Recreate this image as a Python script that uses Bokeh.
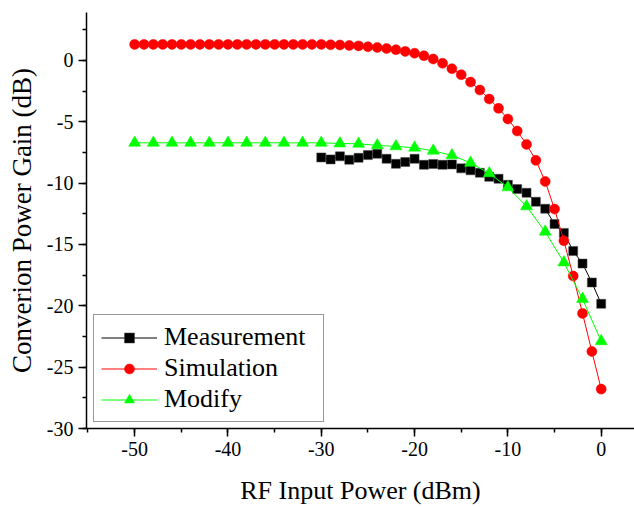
from bokeh.plotting import figure
from bokeh.models import Range1d, SingleIntervalTicker, Legend, LegendItem, NumeralTickFormatter
from bokeh.embed import file_html
from bokeh.resources import INLINE

# ---- data ----
sim_x = list(range(-50, 1))
sim_y = [1.30, 1.30, 1.30, 1.30, 1.30, 1.30, 1.30, 1.30, 1.30, 1.30,
         1.30, 1.30, 1.30, 1.30, 1.30, 1.30, 1.30, 1.30, 1.30, 1.30,
         1.30, 1.27, 1.25, 1.21, 1.18, 1.11, 1.05, 0.96, 0.87, 0.73,
         0.58, 0.38, 0.11, -0.24, -0.68, -1.17, -1.77, -2.42, -3.15, -3.91,
         -4.78, -5.76, -6.85, -8.15, -9.87, -12.12, -14.70, -17.58, -20.62, -23.72,
         -26.79]

meas_x = list(range(-30, 1))
meas_y = [-7.91, -8.07, -7.82, -8.10, -7.94, -7.72, -7.61, -8.02, -8.43, -8.29,
          -8.02, -8.51, -8.45, -8.51, -8.48, -8.80, -8.96, -9.16, -9.49, -9.65,
          -10.14, -10.49, -10.79, -11.52, -12.09, -13.34, -14.06, -15.54, -16.56, -18.10,
          -19.84]

mod_x = list(range(-50, 1, 2))
mod_y = [-6.72, -6.72, -6.72, -6.72, -6.72, -6.72, -6.72, -6.72, -6.72, -6.72,
         -6.72, -6.77, -6.80, -6.93, -7.01, -7.12, -7.37, -7.74, -8.35, -9.21,
         -10.35, -11.90, -13.97, -16.47, -19.44, -22.89]

x_label = "RF Input Power (dBm)"
y_label = "Converion Power Gain (dB)"
names = ["Measurement", "Simulation", "Modify"]

FONT = "'Liberation Serif', 'Times New Roman', serif"

p = figure(width=634, height=507, output_backend="svg", toolbar_location=None,
           x_range=Range1d(-55.16, 3.57), y_range=Range1d(-30, 3.90),
           min_border_left=86, min_border_right=0, min_border_top=12,
           min_border_bottom=79)
p.outline_line_color = None
p.xgrid.visible = False
p.ygrid.visible = False
p.background_fill_color = "white"
p.border_fill_color = "white"

p.xaxis.ticker = SingleIntervalTicker(interval=10, num_minor_ticks=2)
p.yaxis.ticker = SingleIntervalTicker(interval=5, num_minor_ticks=2)
p.xaxis.formatter = NumeralTickFormatter(format="0")
p.yaxis.formatter = NumeralTickFormatter(format="0")

for ax in (p.xaxis, p.yaxis):
    ax.axis_line_color = "black"
    ax.axis_line_width = 1.5
    ax.major_tick_line_color = "black"
    ax.minor_tick_line_color = "black"
    ax.major_tick_line_width = 1.5
    ax.minor_tick_line_width = 1.5
    ax.major_tick_in = 0
    ax.major_tick_out = 8
    ax.minor_tick_in = 0
    ax.minor_tick_out = 4
    ax.major_label_text_font = FONT
    ax.major_label_text_font_size = "20px"
    ax.major_label_text_color = "black"
    ax.axis_label_text_font = FONT
    ax.axis_label_text_font_style = "normal"
    ax.axis_label_text_color = "black"

p.xaxis.axis_label = x_label
p.yaxis.axis_label = y_label
p.xaxis.axis_label_text_font_size = "26px"
p.yaxis.axis_label_text_font_size = "27px"
p.xaxis.axis_label_standoff = 17
p.yaxis.axis_label_standoff = 7

# Measurement
l1 = p.line(meas_x, meas_y, line_color="black", line_width=1)
s1 = p.scatter(meas_x, meas_y, marker="square", size=9, fill_color="black",
               line_color="#444444", line_width=0.5)
# Simulation
l2 = p.line(sim_x, sim_y, line_color="red", line_width=1)
s2 = p.scatter(sim_x, sim_y, marker="circle", size=10, fill_color="red",
               line_color="red", line_width=0.5)
# Modify
l3 = p.line(mod_x, mod_y, line_color="#00ff00", line_width=1)
s3 = p.scatter(mod_x, mod_y, marker="triangle", size=12, fill_color="#00ff00",
               line_color="#00ff00", line_width=0.5)

legend = Legend(items=[
    LegendItem(label=names[0], renderers=[l1, s1]),
    LegendItem(label=names[1], renderers=[l2, s2]),
    LegendItem(label=names[2], renderers=[l3, s3]),
], location=(7, 6))
legend.margin = 0
legend.padding = 7
legend.spacing = 1
legend.glyph_width = 56
legend.glyph_height = 25
legend.label_standoff = 7
legend.label_width = 152
legend.label_text_font = FONT
legend.label_text_font_size = "26px"
legend.label_text_color = "black"
legend.border_line_color = "#333333"
legend.border_line_width = 1
legend.background_fill_color = "white"
legend.background_fill_alpha = 1.0
p.add_layout(legend)

open("out.html", "w").write(file_html(p, INLINE))
